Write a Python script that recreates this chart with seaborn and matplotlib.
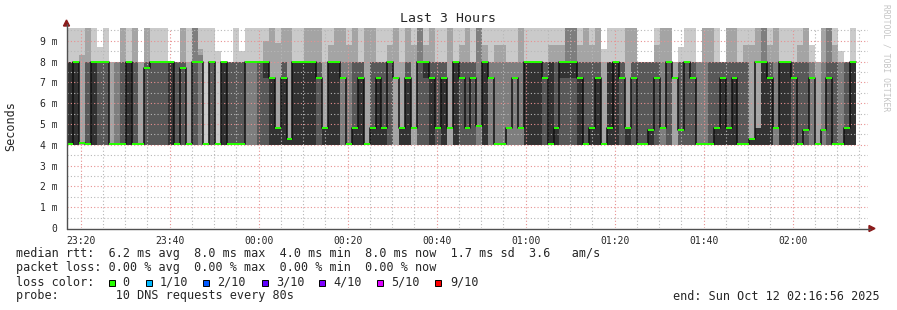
import numpy as np
import matplotlib
matplotlib.use("Agg")
import matplotlib.pyplot as plt
from matplotlib.lines import Line2D
from matplotlib.patches import Polygon, Rectangle
import seaborn as sns

# ---------------- data (ms) ----------------
T = 10.0          # ping above the visible range
nan = float("nan")
ping_floor = 4.0  # lowest pings (p1..p4) of every round

p5 = [4,4,4,4,4,4,4,4,4,4, 4,4,4,4,4,4,4,4,4,4, 4,4,4,4,4,4,4,4,4,4,
      4,4,4,7.2,4,4,4,4,4,4, 4,4,4,4,4,4,4,4,4,4, 4,4,4,4,4,4,4,4,4,4,
      7.2,4,4,4,4,4,4,4,4,4, 4,4,4,4,4,4,4,4,4,4, 4,4,4,7.2,7.2,7.2,4,4,4,4,
      4,4,4,4,4,4,4,4,4,4, 4,4,4,4,4,4,4,4,4,4, 4,4,4,4,4,4,4,4,4,4,
      4,4,4,4,4,4,4,4,4,4, 4,4,4,nan,nan]
p6 = [8,8,4,4,8,4,4,4,4,4, 8,4,4,4,4,4,4,8,4,4, 4,4,4,4,4,4,8,4,4,4,
      4,4,4,8,7.2,4.8,7.2,4.3,8,8, 8,8,4,4.8,8,8,4,4,4.8,7.2, 4,4.8,7.2,4.8,4,4,4.8,7.2,4,4,
      8,7.2,4,7.2,4,8,4,4,4,4, 8,4,4,4,4,4,4,8,8,8, 4,8,4.8,8,8,8,7.2,4,4.8,7.2,
      4,8,8,4,4.8,4,4,4,4.7,4, 4,4,4,4,4,4,4,4,4,4.8, 7.2,4.8,7.2,4,4,4.3,4.8,8,7.2,4,
      8,8,4,4,4,4,4,4,4,4, 4,4.8,8,nan,nan]
p7 = [8,8,4,8,8,8,8,4,4,8, 8,8,4,8,8,8,8,8,8,8, 4,8,4,4,8,4,8,8,8,8,
      4,4,8,8,7.2,4.8,8,4.3,8,8, 8,8,8,4.8,8,8,4,4,8,8, 4,8,8,8,8,4,4.8,8,4,8,
      8,8,8,8,4,8,8,8,8,4, 8,4,4,4,4,4,4,8,8,8, 8,8,8,8,8,8,8,8,8,8,
      4,8,8,8,4.8,8,8,8,8,8, 4,8,4,8,8,8,4,4,8,8, 8,8,8,8,8,4.3,4.8,8,8,4,
      8,8,8,8,8,4,4,4,8,8, 4,8,8,nan,nan]
p8 = [8,8,4,8,8,8,8,4,8,8, 8,8,4,8,8,8,8,8,8,8, 4,T,8.3,4,8,4,8,8,8,8,
      8,8,8,8,7.2,4.8,8,4.3,8,8, 8,8,8,4.8,8,8,8,8,8,8, 4,8,8,8,8,4,4.8,8,4,T,
      8,8,8,8,4,8,8,8,8,T, 8,8,8,8,8,8,8,8,8,8, 8,8,8,8,T,T,8,8,8,8,
      4,8,8,8,4.8,8,8,8,8,8, 8,8,4,8,8,8,8,8,8,8, 8,8,8,8,8,4.3,4.8,T,8,8,
      8,8,8,8,8,8,4,8,T,8, 8,8,8,nan,nan]
p9 = [8,8,8.3,T,8,8,8,8,8,T, 8,T,8,T,8,8,8,8,8,T, 8,T,8.6,4,8,4,8,8,8,8,
      8,8,8,9.0,T,8.9,T,T,8,8, T,T,T,8,8.8,T,T,8.8,T,8, T,T,8,8,8.8,T,8,T,8.8,T,
      8.8,T,8,8,T,8,8.8,T,8,T, 8.8,8,8.8,8.8,8,8,T,8,8,8, 8,8.8,8.8,8.8,T,T,8.8,T,8.8,T,
      8,8,8,8,T,T,8,8,8,8.8, T,T,8,8,8,8,8,T,T,8, 8,T,T,8,8.8,8.8,T,T,8.8,T,
      8,8,8,8.8,T,8,8,T,T,8.8, 8,8,8,nan,nan]
p10 = [T,T,T,T,T,8.7,T,8,8,T, T,T,8,T,T,T,T,8,8,T, T,T,T,T,T,8.5,8,8,T,8.5,
       T,T,T,T,T,T,T,T,T,T, T,T,T,T,T,T,T,T,T,T, T,T,T,T,T,T,T,T,T,T,
       T,T,T,T,T,T,T,T,T,T, T,T,T,T,T,T,T,T,T,T, T,T,T,T,T,T,T,T,T,T,
       8.6,T,T,T,T,T,8,8,8,T, T,T,8,8.7,T,T,8,T,T,T, 8,T,T,T,T,T,T,T,T,T,
       T,T,T,T,T,8.8,8,T,T,T, 8.5,8,T,nan,nan]
median = [4.05,8,4.1,4.05,8,8,8,4.05,4.05,4.05, 8,4.05,4.05,7.7,8,8,8,8,4.05,7.7,
          4.05,8,8,4.05,8,4.05,8,4.05,4.05,4.05, 8,8,8,8,7.2,4.8,7.2,4.3,8,8,
          8,8,7.2,4.8,8,8,7.2,4.05,4.8,7.2, 4.05,4.8,7.2,4.8,8,7.2,4.8,7.2,4.8,8,
          8,7.2,4.8,7.2,4.8,8,7.2,4.8,7.2,4.9, 8,7.2,4.05,4.05,4.8,7.2,4.8,8,8,8,
          7.2,4.05,4.8,8,8,8,7.2,4.05,4.8,7.2, 4.05,4.8,8,7.2,4.8,7.2,4.05,4.05,4.7,7.2,
          4.8,8,7.2,4.7,8,7.2,4.05,4.05,4.05,4.8, 7.2,4.8,7.2,4.05,4.05,4.3,8,8,7.2,4.8,
          8,8,7.2,4.05,4.7,7.2,4.05,4.7,7.2,4.05, 4.05,4.8,8,nan,nan]

tick_minutes = [-40, -20, 0, 20, 40, 60, 80, 100, 120]
tick_labels = ["23:20", "23:40", "00:00", "00:20", "00:40", "01:00", "01:20", "01:40", "02:00"]
y_ticks = [0, 1, 2, 3, 4, 5, 6, 7, 8, 9]
y_labels = ["0", "1 m", "2 m", "3 m", "4 m", "5 m", "6 m", "7 m", "8 m", "9 m"]
loss_labels = ["0", "1/10", "2/10", "3/10", "4/10", "5/10", "9/10"]
loss_colors = ["#26ff00", "#00b8ff", "#0059ff", "#5e00ff", "#7e00ff", "#dd00ff", "#ff0000"]
smoke_colors = ["#cacaca", "#a4a4a4", "#7e7e7e", "#585858", "#323232"]

start_min = -(43 + 4 / 60)   # 23:16:56
step_min = 80 / 60            # one round every 80 s

# ---------------- style ----------------
sns.set_style("white")
plt.rcParams['font.family'] = ['DejaVu Sans Mono']

W, H = 897, 310
fig = plt.figure(figsize=(W / 100, H / 100), dpi=100)
fx = lambda px: px / W
fy = lambda py: 1 - py / H
ax = fig.add_axes([fx(67), fy(228), fx(868) - fx(67), fy(28) - fy(228)])

med_arr = np.asarray(median, float)
m = int(np.max(np.nonzero(~np.isnan(med_arr))[0])) + 1
x = start_min + step_min * np.arange(m + 1)


def ext(a):
    a = np.asarray(a, float)[:m]
    return np.append(a, a[-1])


floor = np.full(m + 1, ping_floor)
for arr, col in zip([p10, p9, p8, p7], smoke_colors[:4]):
    ax.fill_between(x, floor, ext(arr), step="post", color=col, lw=0, zorder=1)
ax.fill_between(x, ext(p5), ext(p6), step="post", color=smoke_colors[4], lw=0, zorder=1.1)

sns.lineplot(x=x, y=ext(median), drawstyle="steps-post", color="#111111",
             lw=1.1, ax=ax, zorder=3)
mm = ext(median)
ax.fill_between(x, mm - 0.05, mm + 0.05, step="post", color=loss_colors[0], lw=0, zorder=4)

ax.set_xlim(start_min, start_min + 135 * step_min)
ax.set_ylim(0, 9.62)
ax.set_xticks(tick_minutes)
ax.set_xticklabels(tick_labels)
ax.set_xticks(np.arange(-40, 140, 5), minor=True)
ax.set_yticks(y_ticks)
ax.set_yticklabels(y_labels)
ax.set_yticks(np.arange(0.5, 9.6, 1.0), minor=True)

ax.set_axisbelow(False)
ax.grid(which="major", color="#e89090", ls=(0, (1, 2)), lw=0.8)
ax.grid(which="minor", color="#b8b8b8", ls=(0, (1, 2)), lw=0.8)
for s in ["top", "right"]:
    ax.spines[s].set_visible(False)
ax.spines["left"].set_visible(False)
ax.spines["bottom"].set_visible(False)

ax.tick_params(axis="x", which="major", length=3, color="#e05050", labelsize=7, pad=3)
ax.tick_params(axis="x", which="minor", length=2, color="#a0a0a0")
ax.tick_params(axis="y", which="major", length=3, color="#606060", labelsize=7, pad=4)
ax.tick_params(axis="y", which="minor", length=2, color="#a0a0a0")
ax.set_xlabel("")
ax.set_ylabel("")

# axes with arrows
axis_c = "#505050"
fig.add_artist(Line2D([fx(66.5), fx(66.5)], [fy(228.5), fy(24)], color=axis_c, lw=1))
fig.add_artist(Line2D([fx(66.5), fx(870)], [fy(228.5), fy(228.5)], color=axis_c, lw=1))
fig.add_artist(Polygon([(fx(63.5), fy(26)), (fx(69.5), fy(26)), (fx(66.5), fy(20))],
                       closed=True, color="#8b1a1a", transform=fig.transFigure))
fig.add_artist(Polygon([(fx(869), fy(225.5)), (fx(869), fy(231.5)), (fx(875), fy(228.5))],
                       closed=True, color="#8b1a1a", transform=fig.transFigure))

# texts
fig.text(fx(448), fy(19), "Last 3 Hours", ha="center", va="center", fontsize=9.5)
fig.text(fx(11), fy(126), "Seconds", ha="center", va="center", rotation=90, fontsize=8.5)
fig.text(fx(886), fy(4), "RRDTOOL / TOBI OETIKER", ha="center", va="top",
         rotation=270, fontsize=5.8, color="#c4c4c4")

fs = 8.5
fig.text(fx(16), fy(254), "median rtt:  6.2 ms avg  8.0 ms max  4.0 ms min  8.0 ms now  1.7 ms sd  3.6   am/s",
         va="center", fontsize=fs)
fig.text(fx(16), fy(268), "packet loss: 0.00 % avg  0.00 % max  0.00 % min  0.00 % now",
         va="center", fontsize=fs)
fig.text(fx(16), fy(282), "loss color:", va="center", fontsize=fs)
sq_x = [109, 146, 203, 262, 319, 377, 435]
lab_x = [122, 160, 217, 276, 333, 391, 450]
for sx, lx, lab, col in zip(sq_x, lab_x, loss_labels, loss_colors):
    fig.add_artist(Rectangle((fx(sx), fy(285.5)), 6 / W, 6 / H, facecolor=col,
                             edgecolor="#000000", lw=0.7, transform=fig.transFigure))
    fig.text(fx(lx), fy(282), lab, va="center", fontsize=fs)
fig.text(fx(16), fy(296), "probe:        10 DNS requests every 80s", va="center", fontsize=fs)
fig.text(fx(880), fy(296), "end: Sun Oct 12 02:16:56 2025", ha="right", va="center", fontsize=fs)

fig.savefig("out.png", dpi=100, facecolor="white")
